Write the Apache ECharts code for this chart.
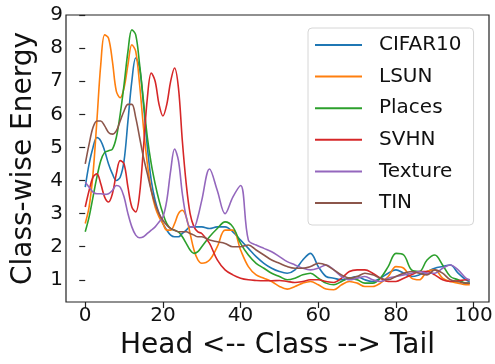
<!DOCTYPE html>
<html>
<head>
<meta charset="utf-8">
<script src="https://cdn.jsdelivr.net/npm/echarts@6/dist/echarts.min.js"></script>
<style>
html,body{margin:0;padding:0;background:#fff;}
#chart{width:495px;height:364px;}
</style>
</head>
<body>
<div id="chart"></div>
<script>
// class index positions (head -> tail)
const classIdx = [0,1,2,3,4,5,6,7,8,9,10,11,12,13,14,15,16,17,18,19,20,21,22,23,24,25,26,27,28,29,30,
  32,34,36,38,40,42,44,46,48,50,52,54,56,58,60,62,64,66,68,70,72,74,76,78,80,82,84,86,88,90,92,94,96,98,99];

const seriesNames = ['CIFAR10','LSUN','Places','SVHN','Texture','TIN'];

const cifar10 = [3.8,4.5,5.0,5.3,5.2,4.9,4.5,4.2,4.0,4.1,4.6,5.8,7.0,7.7,7.4,6.3,5.0,4.0,3.4,3.0,2.7,2.5,2.35,2.3,2.3,2.4,2.5,2.6,2.6,2.6,2.6,
  2.55,2.6,2.6,2.45,2.2,1.95,1.7,1.5,1.35,1.25,1.2,1.3,1.6,1.8,1.4,1.1,1.05,1.0,1.05,1.1,1.0,0.95,1.05,1.2,1.3,1.2,1.1,1.15,1.25,1.35,1.4,1.45,1.2,1.0,0.95];

const lsun = [2.7,3.2,4.2,5.8,7.5,8.4,8.3,7.6,6.7,6.5,6.8,7.5,8.1,7.9,6.9,5.6,4.5,3.7,3.2,2.9,2.7,2.5,2.5,2.7,3.0,3.1,2.9,2.4,1.9,1.6,1.5,
  1.6,2.0,2.5,2.5,1.9,1.4,1.15,1.05,0.95,0.8,0.72,0.8,0.9,0.95,0.85,0.72,0.7,0.85,0.95,0.9,0.8,0.8,0.9,1.1,1.4,1.35,1.05,1.0,1.25,1.3,1.05,0.95,0.9,0.85,0.85];

const places = [2.45,2.9,3.5,4.1,4.6,4.85,4.9,4.95,5.3,6.0,6.9,7.9,8.55,8.4,7.5,6.4,5.3,4.5,3.9,3.4,3.0,2.7,2.55,2.5,2.45,2.3,2.1,1.9,1.8,1.85,2.0,
  2.3,2.55,2.75,2.6,2.1,1.75,1.5,1.35,1.2,1.1,1.0,1.05,1.15,1.2,1.05,0.9,0.85,0.95,1.05,1.0,0.9,0.9,1.05,1.4,1.8,1.75,1.3,1.25,1.6,1.75,1.45,1.1,1.0,0.9,0.9];

const svhn = [3.2,3.7,4.1,4.2,3.9,3.5,3.35,3.6,4.2,4.6,4.5,3.8,3.2,3.05,3.6,5.0,6.5,7.25,7.0,6.3,5.95,6.3,7.0,7.4,6.8,5.2,3.9,3.0,2.6,2.45,2.4,
  2.1,1.6,1.3,1.15,1.05,1.0,0.98,0.97,0.97,0.98,0.95,0.92,0.95,1.0,1.0,0.95,0.92,1.05,1.25,1.3,1.3,1.2,1.05,0.95,0.95,1.05,1.15,1.25,1.25,1.15,1.0,0.95,0.97,1.0,1.0];

const texture = [3.95,3.8,3.65,3.6,3.6,3.58,3.6,3.7,3.85,3.8,3.5,3.0,2.6,2.35,2.27,2.3,2.4,2.5,2.6,2.75,2.9,3.4,4.3,4.95,4.6,3.6,2.9,2.6,2.6,2.9,3.4,
  4.35,3.7,3.0,3.5,3.85,2.2,2.05,1.95,1.85,1.7,1.55,1.45,1.35,1.3,1.35,1.45,1.3,1.1,1.0,1.05,1.1,1.0,0.95,1.05,1.1,1.15,1.2,1.25,1.2,1.2,1.35,1.45,1.3,1.05,1.0];

const tin = [4.5,5.1,5.6,5.8,5.8,5.65,5.45,5.4,5.5,5.8,6.1,6.3,6.3,5.9,5.3,4.7,4.2,3.7,3.3,3.0,2.8,2.65,2.55,2.5,2.45,2.45,2.45,2.4,2.35,2.3,2.3,
  2.2,2.15,2.1,2.0,2.0,2.05,1.9,1.75,1.6,1.5,1.4,1.35,1.35,1.4,1.5,1.45,1.3,1.15,1.05,1.1,1.2,1.15,1.05,1.0,1.1,1.2,1.25,1.2,1.15,1.3,1.2,1.0,0.95,0.9,0.9];

const xTicks = [0,20,40,60,80,100];
const yTicks = [1,2,3,4,5,6,7,8,9];
const colors = ['#1f77b4','#ff7f0e','#2ca02c','#d62728','#9467bd','#8c564b'];

const allValues = [cifar10, lsun, places, svhn, texture, tin];
const FONT = 'DejaVu Sans';

const chart = echarts.init(document.getElementById('chart'), null, {renderer:'canvas'});
chart.setOption({
  animation: false,
  backgroundColor: '#fff',
  color: colors,
  grid: {left: 66, right: 6, top: 15, bottom: 62, containLabel: false, outerBoundsMode: 'none',
    show: true, borderColor: '#222', borderWidth: 1.2, backgroundColor: 'transparent'},
  legend: {
    orient: 'vertical', left: 308, top: 28,
    padding: [7, 12, 12, 7],
    backgroundColor: 'rgba(255,255,255,0.8)', borderColor: '#d6d6d6', borderWidth: 1, borderRadius: 4,
    itemWidth: 47, itemHeight: 2, itemGap: 11.6, icon: 'rect',
    textStyle: {fontFamily: FONT, fontSize: 20, color: '#111', lineHeight: 20, padding: [0,0,0,12]},
    data: seriesNames
  },
  xAxis: {
    type: 'value', min: -4.95, max: 103.95,
    name: 'Head <-- Class --> Tail', nameLocation: 'middle', nameGap: 30,
    nameTextStyle: {fontFamily: FONT, fontSize: 28, color: '#111', lineHeight: 28},
    axisLine: {show: false},
    axisTick: {show: true, length: 6, lineStyle: {color: '#222', width: 1.2}, customValues: xTicks},
    axisLabel: {fontFamily: FONT, fontSize: 20, color: '#111', margin: 4, customValues: xTicks},
    splitLine: {show: false}
  },
  yAxis: {
    type: 'value', min: 0.33, max: 9.0,
    name: 'Class-wise Energy', nameLocation: 'middle', nameGap: 28, nameRotate: 90,
    nameTextStyle: {fontFamily: FONT, fontSize: 28, color: '#111', lineHeight: 28},
    axisLine: {show: false},
    axisTick: {show: true, length: 6, lineStyle: {color: '#222', width: 1.2}, customValues: yTicks},
    axisLabel: {fontFamily: FONT, fontSize: 20, color: '#111', margin: 3, customValues: yTicks},
    splitLine: {show: false}
  },
  series: seriesNames.map((name, k) => ({
    name: name, type: 'line', smooth: 0.35, showSymbol: false, symbol: 'none',
    lineStyle: {width: 1.6, color: colors[k]},
    itemStyle: {color: colors[k]},
    data: classIdx.map((x, i) => [x, allValues[k][i]])
  }))
});
</script>
</body>
</html>
